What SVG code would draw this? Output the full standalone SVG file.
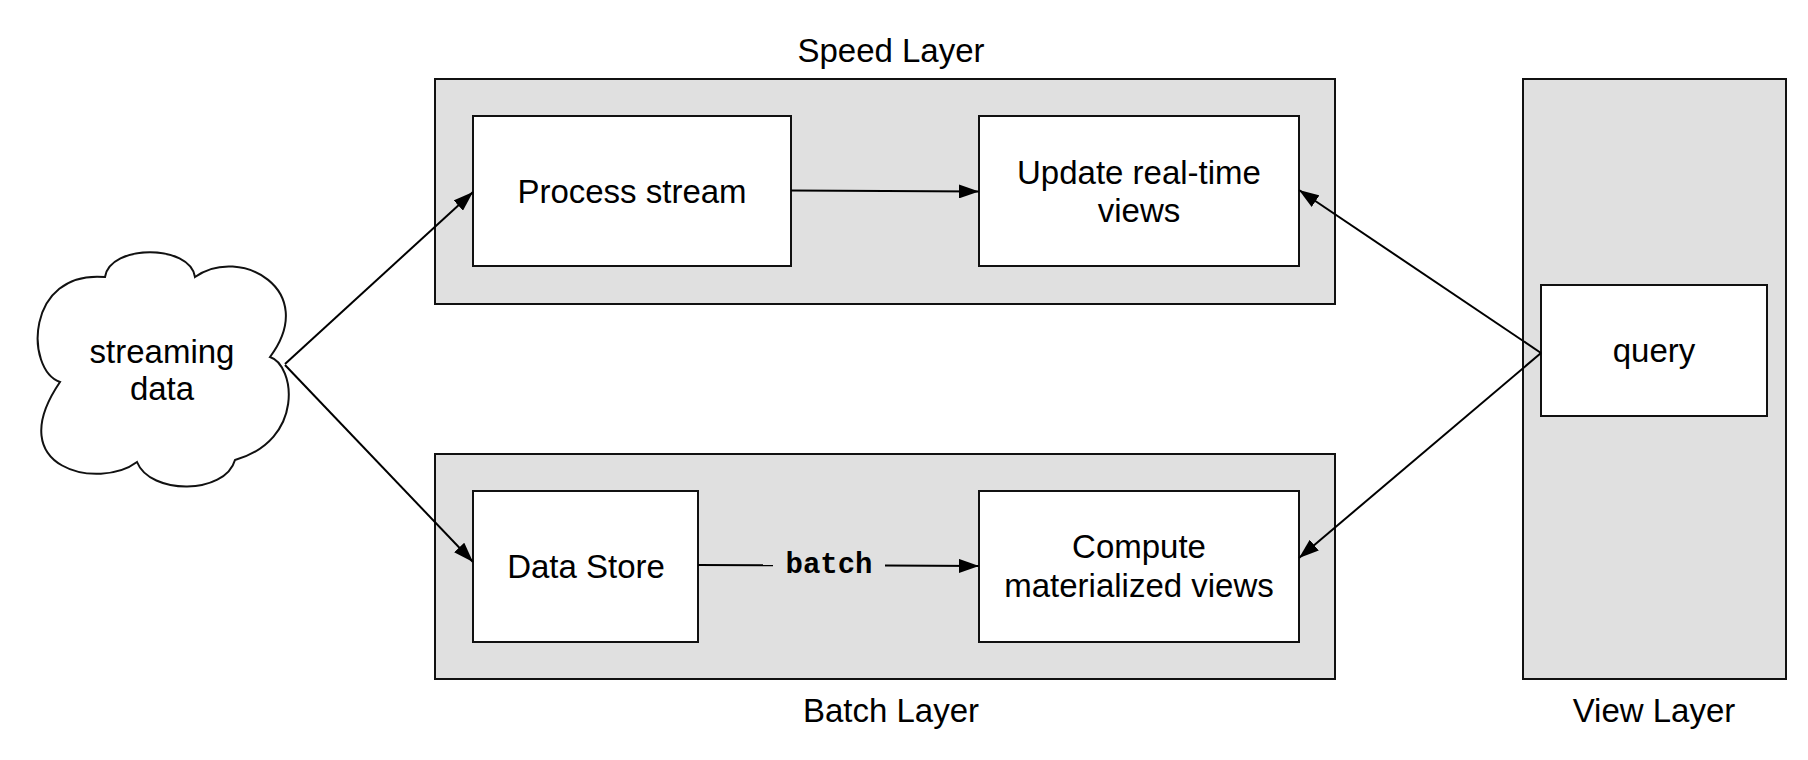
<svg xmlns="http://www.w3.org/2000/svg" width="1808" height="760" viewBox="0 0 1808 760">
<style>
.layer{fill:#e0e0e0;stroke:#111;stroke-width:2}
.box{fill:#fff;stroke:#111;stroke-width:2}
.t{font-family:"Liberation Sans",Arial,Helvetica,sans-serif;font-size:33px;fill:#000;text-anchor:middle}
.mono{font-family:"Liberation Mono","Courier New",monospace;font-size:29px;font-weight:bold;fill:#000;text-anchor:middle}
.edge{fill:none;stroke:#000;stroke-width:2}
</style>
<defs>
<marker id="arrow" markerUnits="userSpaceOnUse" markerWidth="20" markerHeight="14" refX="20" refY="7" orient="auto">
<path d="M0,0 L20,7 L0,14 Z" fill="#000"/>
</marker>
</defs>
<rect width="1808" height="760" fill="#fff"/>
<g id="speed-layer">
<rect class="layer" x="435" y="79" width="900" height="225"/>
<text class="t" x="891" y="62">Speed Layer</text>
</g>
<g id="batch-layer">
<rect class="layer" x="435" y="454" width="900" height="225"/>
<text class="t" x="891" y="722">Batch Layer</text>
</g>
<g id="view-layer">
<rect class="layer" x="1523" y="79" width="263" height="600"/>
<text class="t" x="1654" y="722">View Layer</text>
</g>
<g id="streaming-data">
<path class="box" d="M60 382 C25 370 25 270 105 277 C110 244 190 244 195 277 C240 245 320 290 270 357 C295 365 305 440 235 460 C225 495 150 495 137 462 C100 490 0 470 60 382 Z"/>
<text class="t" x="162" y="363">streaming</text>
<text class="t" x="162" y="400">data</text>
</g>
<g id="process-stream">
<rect class="box" x="473" y="116" width="318" height="150"/>
<text class="t" x="632" y="203">Process stream</text>
</g>
<g id="update-views">
<rect class="box" x="979" y="116" width="320" height="150"/>
<text class="t" x="1139" y="184">Update real-time</text>
<text class="t" x="1139" y="222">views</text>
</g>
<g id="data-store">
<rect class="box" x="473" y="491" width="225" height="151"/>
<text class="t" x="586" y="578">Data Store</text>
</g>
<g id="compute-views">
<rect class="box" x="979" y="491" width="320" height="151"/>
<text class="t" x="1139" y="558">Compute</text>
<text class="t" x="1139" y="597">materialized views</text>
</g>
<g id="query">
<rect class="box" x="1541" y="285" width="226" height="131"/>
<text class="t" x="1654" y="362">query</text>
</g>
<g id="connectors">
<line class="edge" x1="285" y1="364" x2="473" y2="192" marker-end="url(#arrow)"/>
<line class="edge" x1="285" y1="365" x2="473" y2="562" marker-end="url(#arrow)"/>
<line class="edge" x1="791" y1="190.5" x2="979" y2="191.5" marker-end="url(#arrow)"/>
<line class="edge" x1="1541" y1="353" x2="1299" y2="190" marker-end="url(#arrow)"/>
<line class="edge" x1="1541" y1="353" x2="1299" y2="558" marker-end="url(#arrow)"/>
<line class="edge" x1="698" y1="565" x2="773" y2="565.3"/>
<line class="edge" x1="885" y1="565.6" x2="979" y2="566" marker-end="url(#arrow)"/>
<text class="mono" x="829" y="573">batch</text>
</g>
</svg>
